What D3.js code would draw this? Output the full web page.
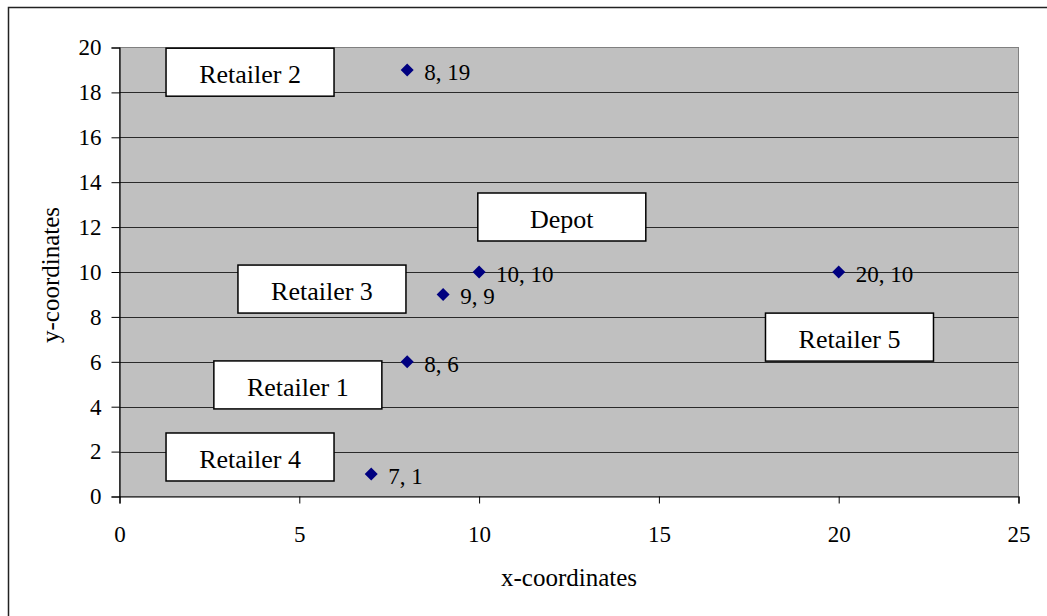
<!DOCTYPE html>
<html>
<head>
<meta charset="utf-8">
<script src="https://cdn.jsdelivr.net/npm/d3@7"></script>
<style>
  html, body { margin: 0; padding: 0; background: #fff; }
  svg { display: block; font-family: "Liberation Serif", "Times New Roman", serif; }
</style>
</head>
<body>
<svg id="chart" width="1047" height="616"></svg>
<script>
// Node coordinates (x, y)
const xValues = [8, 10, 9, 8, 7, 20];
const yValues = [19, 10, 9, 6, 1, 10];
const pointLabels = ["8, 19", "10, 10", "9, 9", "8, 6", "7, 1", "20, 10"];

// Callout names and their centres in data units
const calloutNames = ["Retailer 2", "Depot", "Retailer 3", "Retailer 5", "Retailer 1", "Retailer 4"];
const calloutX = [3.63, 12.3, 5.63, 20.3, 4.96, 3.63];
const calloutY = [18.9, 12.45, 9.24, 7.1, 4.97, 1.76];

const xTicks = [0, 5, 10, 15, 20, 25];
const yTicks = [0, 2, 4, 6, 8, 10, 12, 14, 16, 18, 20];

const svg = d3.select("#chart");
const W = 1047, H = 616;
const plot = { left: 119.5, right: 1018.5, top: 47.5, bottom: 496.5 };

const x = d3.scaleLinear().domain([0, 25]).range([plot.left, plot.right]);
const y = d3.scaleLinear().domain([0, 20]).range([plot.bottom, plot.top]);

// outer chart frame (top and left edges visible)
svg.append("path")
  .attr("d", `M8.5,${H} L8.5,7.5 L${W},7.5`)
  .attr("fill", "none").attr("stroke", "#222").attr("stroke-width", 1.5);

// plot area
svg.append("rect")
  .attr("x", plot.left).attr("y", plot.top)
  .attr("width", plot.right - plot.left).attr("height", plot.bottom - plot.top)
  .attr("fill", "#c0c0c0").attr("stroke", "#808080").attr("stroke-width", 1);

// horizontal gridlines
svg.append("g").selectAll("line")
  .data(yTicks.filter(d => d > 0 && d < 20))
  .join("line")
  .attr("x1", plot.left).attr("x2", plot.right)
  .attr("y1", d => Math.round(y(d)) + 0.5).attr("y2", d => Math.round(y(d)) + 0.5)
  .attr("stroke", "#2a2a2a").attr("stroke-width", 1);

// y axis
const yAxis = svg.append("g")
  .attr("transform", `translate(${plot.left},0)`)
  .call(d3.axisLeft(y).tickValues(yTicks).tickSize(8).tickPadding(10));
yAxis.select(".domain").attr("stroke", "#000").attr("stroke-width", 1.2);
yAxis.selectAll(".tick line").attr("stroke", "#000");
yAxis.selectAll("text").attr("font-size", 23).attr("font-family", "Liberation Serif").attr("fill", "#000");

// x axis
const xAxis = svg.append("g")
  .attr("transform", `translate(0,${plot.bottom})`)
  .call(d3.axisBottom(x).tickValues(xTicks).tickSize(7).tickPadding(22));
xAxis.select(".domain").attr("stroke", "#000").attr("stroke-width", 1.2);
xAxis.selectAll(".tick line").attr("stroke", "#000");
xAxis.selectAll("text").attr("font-size", 23).attr("font-family", "Liberation Serif").attr("fill", "#000");

// axis titles
svg.append("text")
  .attr("x", (plot.left + plot.right) / 2).attr("y", 586)
  .attr("text-anchor", "middle").attr("font-size", 25).text("x-coordinates");
svg.append("text")
  .attr("transform", `translate(59,${(plot.top + plot.bottom) / 2 + 3}) rotate(-90)`)
  .attr("text-anchor", "middle").attr("font-size", 25).text("y-coordinates");

// callout boxes
const boxW = 168, boxH = 48;
const callouts = svg.append("g").selectAll("g")
  .data(calloutNames.map((n, i) => ({ name: n, cx: calloutX[i], cy: calloutY[i] })))
  .join("g")
  .attr("transform", d => `translate(${x(d.cx)},${y(d.cy)})`);
callouts.append("rect")
  .attr("x", -boxW / 2).attr("y", -boxH / 2)
  .attr("width", boxW).attr("height", boxH)
  .attr("fill", "#fff").attr("stroke", "#000").attr("stroke-width", 1.5);
callouts.append("text")
  .attr("text-anchor", "middle").attr("y", 11)
  .attr("font-size", 26).text(d => d.name);

// data points
const pts = xValues.map((v, i) => ({ x: v, y: yValues[i], label: pointLabels[i] }));
const r = 6.5;
svg.append("g").selectAll("path")
  .data(pts)
  .join("path")
  .attr("d", d => {
    const px = x(d.x), py = y(d.y);
    return `M${px},${py - r} L${px + r},${py} L${px},${py + r} L${px - r},${py} Z`;
  })
  .attr("fill", "#000080");

svg.append("g").selectAll("text")
  .data(pts)
  .join("text")
  .attr("x", d => x(d.x) + 17).attr("y", d => y(d.y) + 10)
  .attr("font-size", 23).attr("fill", "#000")
  .text(d => d.label);
</script>
</body>
</html>
